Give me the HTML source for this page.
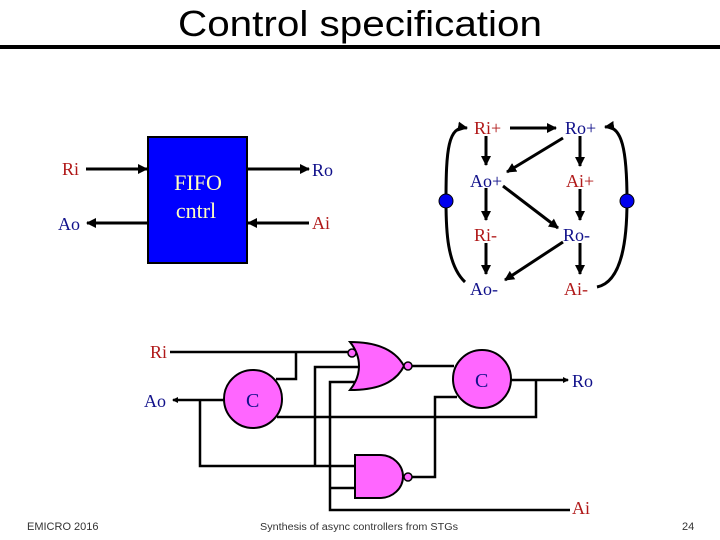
<!DOCTYPE html>
<html><head><meta charset="utf-8"><style>
html,body{margin:0;padding:0;background:#fff;}
svg{display:block;}
.t{font-family:"Liberation Serif",serif;font-size:18px;}
.r{fill:#b01818;} .b{fill:#10108a;}
</style></head><body>
<svg width="720" height="540" viewBox="0 0 720 540" xmlns="http://www.w3.org/2000/svg">
<defs>
<marker id="ar" markerWidth="10" markerHeight="10" refX="9" refY="5" orient="auto" markerUnits="userSpaceOnUse">
<path d="M0,0 L10,5 L0,10 Z" fill="#000"/></marker>
<marker id="as" markerWidth="6" markerHeight="6" refX="5" refY="3" orient="auto" markerUnits="userSpaceOnUse">
<path d="M0,0 L6,3 L0,6 Z" fill="#000"/></marker>
</defs>
<text x="360" y="36" text-anchor="middle" font-family="Liberation Sans Narrow,Liberation Sans,sans-serif" font-size="36" textLength="364" lengthAdjust="spacingAndGlyphs">Control specification</text>
<rect x="0" y="45" width="720" height="4" fill="#000"/>

<!-- FIFO -->
<rect x="148" y="137" width="99" height="126" fill="#0000ff" stroke="#000" stroke-width="2"/>
<text x="198" y="190" text-anchor="middle" font-family="Liberation Serif,serif" font-size="22" fill="#ffffc0">FIFO</text>
<text x="196" y="218" text-anchor="middle" font-family="Liberation Serif,serif" font-size="22" fill="#ffffc0">cntrl</text>
<g stroke="#000" stroke-width="3" fill="none">
<line x1="86" y1="169" x2="147" y2="169" marker-end="url(#ar)"/>
<line x1="248" y1="169" x2="309" y2="169" marker-end="url(#ar)"/>
<line x1="148" y1="223" x2="87" y2="223" marker-end="url(#ar)"/>
<line x1="309" y1="223" x2="248" y2="223" marker-end="url(#ar)"/>
</g>
<text x="62" y="175" class="t r">Ri</text>
<text x="58" y="230" class="t b">Ao</text>
<text x="312" y="176" class="t b">Ro</text>
<text x="312" y="229" class="t r">Ai</text>

<!-- STG -->
<g stroke="#000" stroke-width="3" fill="none">
<line x1="510" y1="128" x2="556" y2="128" marker-end="url(#ar)"/>
<line x1="486" y1="136" x2="486" y2="165" marker-end="url(#ar)"/>
<line x1="486" y1="188" x2="486" y2="220" marker-end="url(#ar)"/>
<line x1="486" y1="243" x2="486" y2="274" marker-end="url(#ar)"/>
<line x1="580" y1="136" x2="580" y2="166" marker-end="url(#ar)"/>
<line x1="580" y1="189" x2="580" y2="220" marker-end="url(#ar)"/>
<line x1="580" y1="243" x2="580" y2="274" marker-end="url(#ar)"/>
<line x1="563" y1="138" x2="507" y2="172" marker-end="url(#ar)"/>
<line x1="503" y1="186" x2="558" y2="228" marker-end="url(#ar)"/>
<line x1="563" y1="242" x2="505" y2="280" marker-end="url(#ar)"/>
<path d="M465,282 C447,265 446,230 446,201 C446,150 448,125 467,128" marker-end="url(#ar)"/>
<path d="M597,287 C622,282 627,240 627,201 C627,150 622,125 605,127" marker-end="url(#ar)"/>
</g>
<circle cx="446" cy="201" r="7" fill="#0000ee" stroke="#000"/>
<circle cx="627" cy="201" r="7" fill="#0000ee" stroke="#000"/>
<text x="474" y="134" class="t r">Ri+</text>
<text x="565" y="134" class="t b">Ro+</text>
<text x="470" y="187" class="t b">Ao+</text>
<text x="566" y="187" class="t r">Ai+</text>
<text x="474" y="241" class="t r">Ri-</text>
<text x="563" y="241" class="t b">Ro-</text>
<text x="470" y="295" class="t b">Ao-</text>
<text x="564" y="295" class="t r">Ai-</text>

<!-- Circuit -->
<g stroke="#000" stroke-width="2.5" fill="none">
<line x1="170" y1="352" x2="349" y2="352"/>
<polyline points="296,352 296,379 276,379"/>
<line x1="225" y1="400" x2="173" y2="400" marker-end="url(#as)"/>
<polyline points="200,400 200,466 356,466"/>
<polyline points="315,466 315,367 360,367"/>
<polyline points="357,382 330,382 330,510 570,510"/>
<line x1="330" y1="488" x2="356" y2="488"/>
<line x1="412" y1="366" x2="454" y2="366"/>
<line x1="510" y1="380" x2="568" y2="380" marker-end="url(#as)"/>
<polyline points="536,380 536,417 277,417"/>
<polyline points="457,397 435,397 435,477 412,477"/>
</g>
<path d="M350,342 C385,342 398,355 404,366 C398,378 385,390 350,390 C362,375 362,357 350,342 Z" fill="#ff66ff" stroke="#000" stroke-width="2"/>
<circle cx="352" cy="353" r="4" fill="#ff66ff" stroke="#000" stroke-width="1.5"/>
<circle cx="408" cy="366" r="4" fill="#ff66ff" stroke="#000" stroke-width="1.5"/>
<path d="M355,455 L380,455 A23,21.5 0 0 1 380,498 L355,498 Z" fill="#ff66ff" stroke="#000" stroke-width="2"/>
<circle cx="408" cy="477" r="4" fill="#ff66ff" stroke="#000" stroke-width="1.5"/>
<circle cx="253" cy="399" r="29" fill="#ff66ff" stroke="#000" stroke-width="2"/>
<circle cx="482" cy="379" r="29" fill="#ff66ff" stroke="#000" stroke-width="2"/>
<text x="246" y="407" font-family="Liberation Serif,serif" font-size="20" fill="#10108a">C</text>
<text x="475" y="387" font-family="Liberation Serif,serif" font-size="20" fill="#10108a">C</text>
<text x="150" y="358" class="t r">Ri</text>
<text x="144" y="407" class="t b">Ao</text>
<text x="572" y="387" class="t b">Ro</text>
<text x="572" y="514" class="t r">Ai</text>

<text x="27" y="530" font-family="Liberation Sans,sans-serif" font-size="11" fill="#333">EMICRO 2016</text>
<text x="260" y="530" font-family="Liberation Sans,sans-serif" font-size="10" fill="#333" textLength="198" lengthAdjust="spacingAndGlyphs">Synthesis of async controllers from STGs</text>
<text x="682" y="530" font-family="Liberation Sans,sans-serif" font-size="11" fill="#333">24</text>
</svg>
</body></html>
